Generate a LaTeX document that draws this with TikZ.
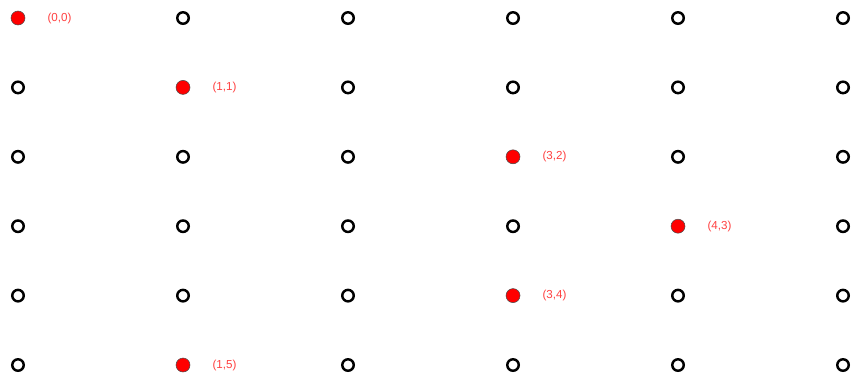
\documentclass[tikz,border=0pt]{standalone}
\usepackage{fontspec}
\setmainfont{Liberation Sans}
\usepackage{tikz}

\begin{document}
\begin{tikzpicture}[
        x=0.02cm, y=-0.02cm,
        spot/.style={circle, draw=black, line width=1.4pt, inner sep=0pt, minimum size=0.23cm},
        hit/.style={circle, draw=black!70, fill=red, line width=0.3pt, inner sep=0pt, minimum size=0.28cm},
        tag/.style={text=red!75, font=\fontsize{6.6}{7}\selectfont, inner sep=0pt}
    ]

        \useasboundingbox (0,0) rectangle (857,380);

        % grid of positions, the queens are filled red
        \foreach \col in {0,...,5} {
            \foreach \row in {0,...,5} {
                \pgfmathtruncatemacro\isqueen{(\col==0&&\row==0)||(\col==1&&\row==1)||(\col==3&&\row==2)||(\col==4&&\row==3)||(\col==3&&\row==4)||(\col==1&&\row==5)}
                \ifnum\isqueen=1
                    \node[hit, label={[tag, label distance=0.44cm]right:(\col,\row)}] (p-\col-\row) at ({18+165*\col},{18+69.4*\row}) {};
                \else
                    \node[spot] (p-\col-\row) at ({18+165*\col},{18+69.4*\row}) {};
                \fi
            }
        }

    \end{tikzpicture}
\end{document}
